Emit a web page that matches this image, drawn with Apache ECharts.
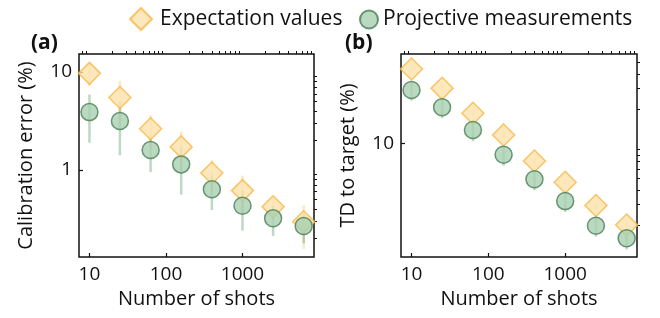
<!DOCTYPE html>
<html><head><meta charset="utf-8">
<script src="https://cdn.jsdelivr.net/npm/echarts@6/dist/echarts.min.js"></script>
<style>html,body{margin:0;padding:0;background:#fff}#c{width:660px;height:318px}</style>
</head><body><div id="c"></div>
<script>
const shots = [10, 25, 63, 158, 398, 1000, 2512, 6310];
const calibExp = [9.7, 5.5, 2.64, 1.72, 0.93, 0.615, 0.42, 0.296];
const calibExpErr = [2.5, 2.6, 1.0, 0.74, 0.33, 0.26, 0.1, 0.14];
const calibProj = [3.9, 3.16, 1.6, 1.14, 0.635, 0.43, 0.321, 0.268];
const calibProjErr = [2.0, 1.75, 0.65, 0.58, 0.245, 0.19, 0.11, 0.09];
const tdExp = [44, 30, 18.3, 11.9, 7.1, 4.65, 2.93, 1.99];
const tdExpErr = [3, 2, 1.2, 0.8, 0.5, 0.3, 0.2, 0.14];
const tdProj = [29, 20.6, 13.1, 8.04, 4.93, 3.2, 1.96, 1.53];
const tdProjErr = [5.5, 4.0, 2.6, 1.6, 0.95, 0.62, 0.38, 0.3];
const xMajor = [10, 100, 1000];
const xMinor = [8, 9, 20, 30, 40, 50, 60, 70, 80, 90, 200, 300, 400, 500, 600, 700, 800, 900, 2000, 3000, 4000, 5000, 6000, 7000, 8000];
const yMajorA = [1, 10];
const yMinorA = [0.2, 0.3, 0.4, 0.5, 0.6, 0.7, 0.8, 0.9, 2, 3, 4, 5, 6, 7, 8, 9];
const yMajorB = [10];
const yMinorB = [2, 3, 4, 5, 6, 7, 8, 9, 20, 30, 40, 50];

const FONT = 'Open Sans';
const INK = '#111';
const X_MIN = 7.3, X_MAX = 8600;

function fmt(v){ return String(Math.round(v*1000)/1000); }

function majorX(grid){
  return {gridIndex:grid, type:'log', min:X_MIN, max:X_MAX,
    axisLine:{show:false}, splitLine:{show:false}, minorTick:{show:false},
    axisTick:{inside:true, length:4, customValues:xMajor, lineStyle:{color:INK, width:1.2}},
    axisLabel:{customValues:xMajor, formatter:fmt, fontSize:19, fontFamily:FONT, color:INK, margin:8},
    name:'Number of shots', nameLocation:'middle', nameGap:32,
    nameTextStyle:{fontSize:20, fontFamily:FONT, color:INK}};
}
function minorX(grid){
  return {gridIndex:grid, type:'log', min:X_MIN, max:X_MAX,
    axisLine:{show:false}, splitLine:{show:false}, axisLabel:{show:false},
    axisTick:{inside:false, length:3, customValues:xMinor, lineStyle:{color:INK, width:1}}};
}
function majorY(grid, min, max, vals, name){
  return {gridIndex:grid, type:'log', min:min, max:max,
    axisLine:{show:false}, splitLine:{show:false}, minorTick:{show:false},
    axisTick:{inside:true, length:4, customValues:vals, lineStyle:{color:INK, width:1.2}},
    axisLabel:{customValues:vals, formatter:fmt, fontSize:19, fontFamily:FONT, color:INK, margin:7},
    name:name, nameLocation:'middle', nameGap:43, nameRotate:90,
    nameTextStyle:{fontSize:20, fontFamily:FONT, color:INK}};
}
function minorY(grid, min, max, vals){
  return {gridIndex:grid, type:'log', min:min, max:max,
    axisLine:{show:false}, splitLine:{show:false}, axisLabel:{show:false},
    axisTick:{inside:false, length:3, customValues:vals, lineStyle:{color:INK, width:1}}};
}

function errSeries(name, xi, yi, ys, errs, color){
  return {type:'custom', name:name, xAxisIndex:xi, yAxisIndex:yi, silent:true,
    data: shots.map((s,i)=>[s, ys[i], errs[i]]),
    renderItem:function(params, api){
      const x = api.value(0), y = api.value(1), e = api.value(2);
      const p1 = api.coord([x, y - e]);
      const p2 = api.coord([x, y + e]);
      return {type:'line', shape:{x1:p1[0], y1:p1[1], x2:p2[0], y2:p2[1]},
        style:{stroke:color, lineWidth:2.5}};
    }};
}
const EXP_STYLE = {color:'#fde2ae', borderColor:'#f7b846', borderWidth:1.5};
const PROJ_STYLE = {color:'#a9cfb1', borderColor:'#4a7d54', borderWidth:1.5};
function expSeries(xi, yi, ys){
  return {type:'scatter', name:'Expectation values', xAxisIndex:xi, yAxisIndex:yi,
    symbol:'diamond', symbolSize:22, itemStyle:EXP_STYLE,
    data: shots.map((s,i)=>[s, ys[i]])};
}
function projSeries(xi, yi, ys){
  return {type:'scatter', name:'Projective measurements', xAxisIndex:xi, yAxisIndex:yi,
    symbol:'circle', symbolSize:17, itemStyle:PROJ_STYLE,
    data: shots.map((s,i)=>[s, ys[i]])};
}

const chart = echarts.init(document.getElementById('c'), null, {renderer:'canvas'});
chart.setOption({
  animation:false,
  backgroundColor:'#fff',
  textStyle:{fontFamily:FONT},
  legend:[
    {data:['Expectation values'], left:124, top:2, itemWidth:22, itemHeight:22, selectedMode:false,
     textStyle:{fontSize:21, fontFamily:FONT, color:INK, padding:[0,0,0,3]}},
    {data:['Projective measurements'], left:354, top:4, itemWidth:18, itemHeight:18, selectedMode:false,
     textStyle:{fontSize:21, fontFamily:FONT, color:INK, padding:[0,0,0,0]}}
  ],
  graphic:[
    {type:'text', left:31, top:33, style:{text:'(a)', font:'bold 21px "Open Sans"', fill:INK}},
    {type:'text', left:345, top:33, style:{text:'(b)', font:'bold 21px "Open Sans"', fill:INK}}
  ],
  grid:[
    {left:79, top:54, width:235, height:203, show:true, borderColor:INK, borderWidth:1.5, containLabel:false, outerBoundsMode:'none'},
    {left:401, top:54, width:236, height:203, show:true, borderColor:INK, borderWidth:1.5, containLabel:false, outerBoundsMode:'none'}
  ],
  xAxis:[majorX(0), minorX(0), majorX(1), minorX(1)],
  yAxis:[
    majorY(0, 0.129, 15.3, yMajorA, 'Calibration error (%)'), minorY(0, 0.129, 15.3, yMinorA),
    majorY(1, 1.055, 59.3, yMajorB, 'TD to target (%)'), minorY(1, 1.055, 59.3, yMinorB)
  ],
  series:[
    errSeries('errExpA', 0, 0, calibExp, calibExpErr, 'rgba(250,190,80,0.35)'),
    expSeries(0, 0, calibExp),
    errSeries('errProjA', 0, 0, calibProj, calibProjErr, 'rgba(90,160,105,0.4)'),
    projSeries(0, 0, calibProj),
    errSeries('errExpB', 2, 2, tdExp, tdExpErr, 'rgba(250,190,80,0.35)'),
    expSeries(2, 2, tdExp),
    errSeries('errProjB', 2, 2, tdProj, tdProjErr, 'rgba(90,160,105,0.4)'),
    projSeries(2, 2, tdProj)
  ]
});
</script></body></html>
